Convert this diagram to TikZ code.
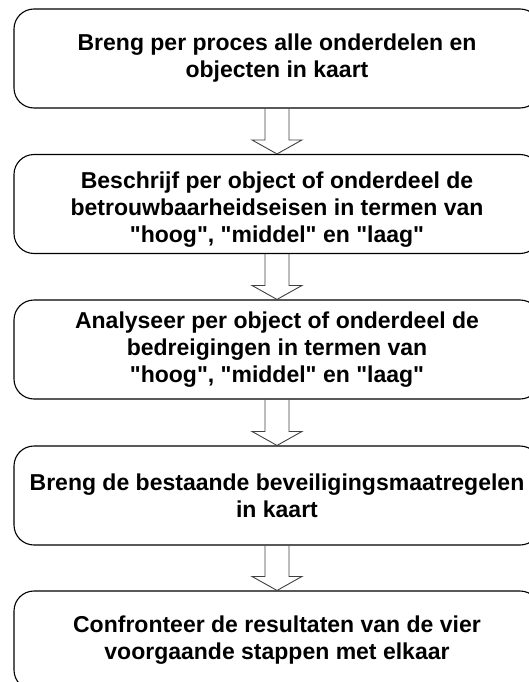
\documentclass[tikz,border=0pt]{standalone}
\usepackage{fontspec}
\setmainfont{Liberation Sans}
\usetikzlibrary{calc}
\begin{document}
\begin{tikzpicture}[x=1pt,y=1pt,
  stepbox/.style={draw=black, line width=1.1pt, rounded corners=20pt,
    minimum width=526pt, minimum height=99pt, inner sep=0pt,
    align=center, font=\fontsize{23}{27}\selectfont\bfseries},
  steptext/.style={inner sep=0pt, align=center,
    font=\fontsize{23}{27}\selectfont\bfseries},
  hollowarrow/.style={draw=black!75, line width=0.9pt, line join=miter}]
\useasboundingbox (0,0) rectangle (528,-682);

\node[stepbox] (b1) at (277,-58.5) {Breng per proces alle onderdelen en\\objecten in kaart};
\node[stepbox] (b2) at (277,-204) {};
\node[steptext] (t2) at ($(b2.center)+(0,-6)$) {Beschrijf per object of onderdeel de\\betrouwbaarheidseisen in termen van\\\textquotedbl hoog\textquotedbl, \textquotedbl middel\textquotedbl{} en \textquotedbl laag\textquotedbl};
\node[stepbox] (b3) at (277,-349.5) {Analyseer per object of onderdeel de\\bedreigingen in termen van\\\textquotedbl hoog\textquotedbl, \textquotedbl middel\textquotedbl{} en \textquotedbl laag\textquotedbl};
\node[stepbox] (b4) at (277,-495.5) {Breng de bestaande beveiligingsmaatregelen\\in kaart};
\node[stepbox] (b5) at (277,-640.5) {Confronteer de resultaten van de vier\\voorgaande stappen met elkaar};

% hollow block arrows between consecutive steps
\foreach \a/\b in {b1/b2, b2/b3, b3/b4, b4/b5} {
  \draw[hollowarrow]
    ($(\a.south)+(-12,0)$) -- ($(\b.north)+(-12,14)$) -- ($(\b.north)+(-25,14)$)
    -- (\b.north) -- ($(\b.north)+(25,14)$) -- ($(\b.north)+(12,14)$)
    -- ($(\a.south)+(12,0)$);
}
\end{tikzpicture}
\end{document}
